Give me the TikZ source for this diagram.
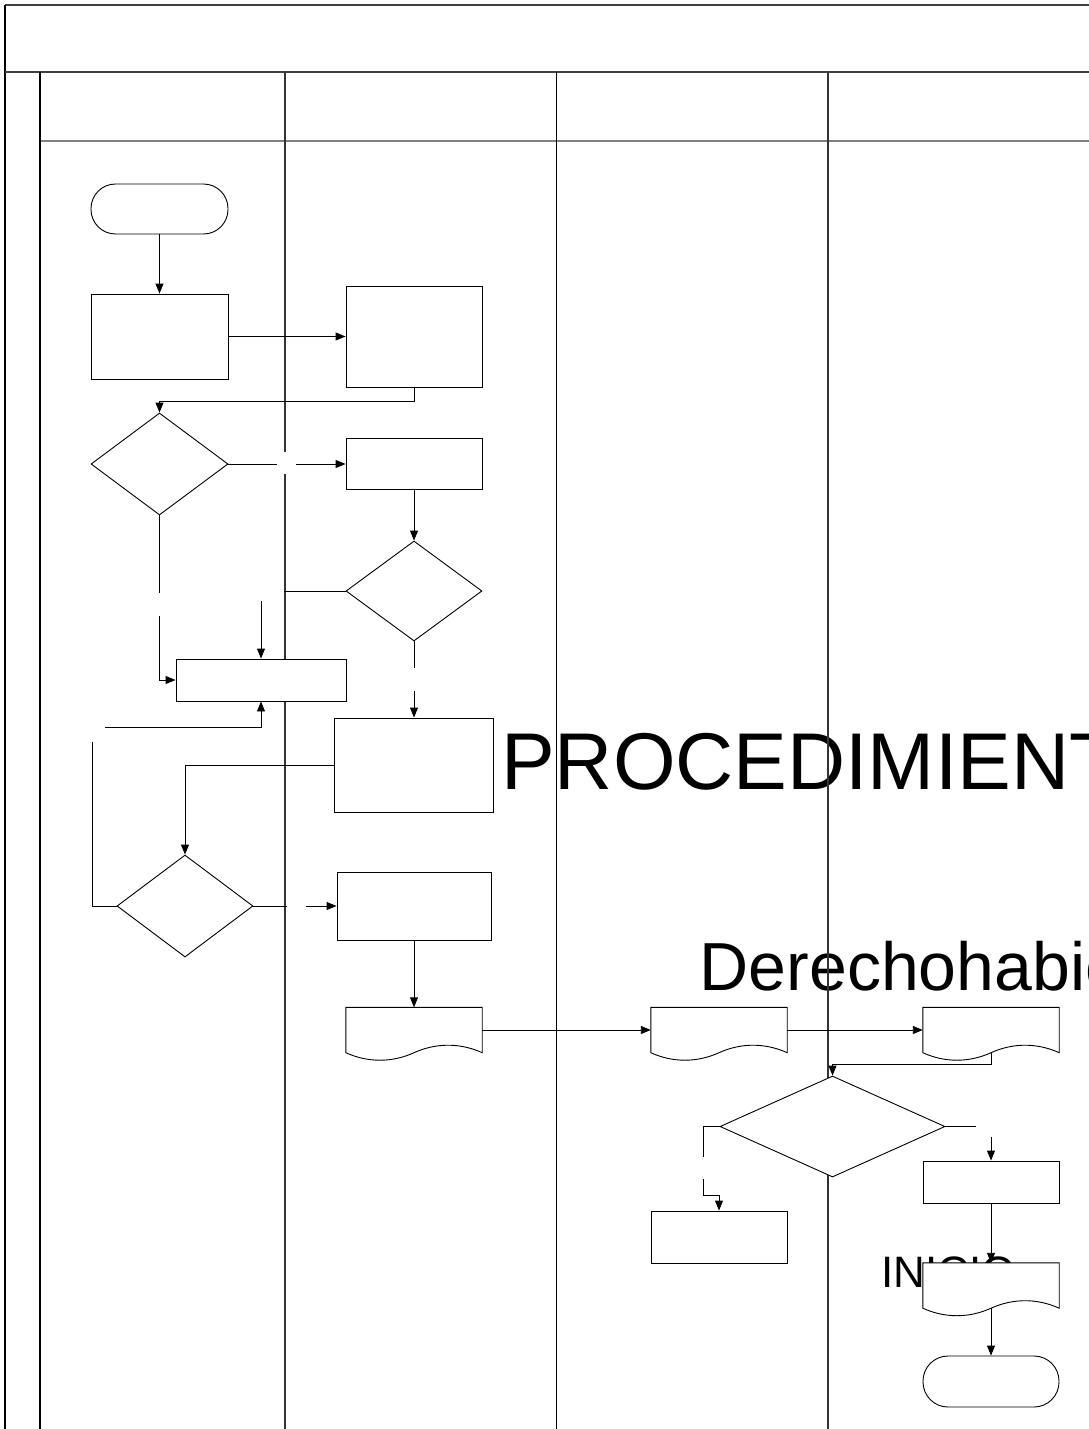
\documentclass[tikz,border=0pt]{standalone}
\usepackage{fontspec}
\setmainfont{Liberation Sans}
\usetikzlibrary{arrows.meta,shapes.geometric,calc}

\begin{document}
\begin{tikzpicture}[x=1pt,y=-1pt,
  shapeline/.style={draw=black,line width=0.9pt,fill=white},
  procbox/.style={shapeline,rectangle,inner sep=0pt},
  decision/.style={shapeline,diamond,inner sep=0pt},
  terminal/.style={shapeline,rectangle,rounded corners=24.5pt,inner sep=0pt},
  docbox/.style={rectangle,inner sep=0pt,minimum width=136pt,minimum height=45pt},
  flow/.style={draw=black,line width=0.9pt,-{Triangle[length=10pt,width=8pt]}},
  gap/.style={fill=white,inner sep=0pt},
  rule/.style={line width=2pt,draw=black!75},
  subrule/.style={line width=2pt,draw=black!50},
  thin/.style={line width=1.2pt,draw=black},
  lane/.style={line width=1.6pt,draw=black!80},
  bigtext/.style={anchor=base west,inner sep=0pt,text=black}
]
\useasboundingbox (0,0) rectangle (1089,1429);
\clip (0,0) rectangle (1089,1429);

% document symbol: rectangle with a wavy lower edge (dip on the left, rise on the right)
\newcommand{\docsym}[3]{%
  \node[docbox] (#1) at (#2,#3) {};
  \draw[shapeline] (#1.south west) -- (#1.north west) -- (#1.north east) -- (#1.south east)
    .. controls +(-22,-10) and +(22,-10) .. (#1.south)
    .. controls +(-22,10) and +(22,10) .. (#1.south west) -- cycle;
}

% large texts
\node[bigtext,font=\fontsize{80.5}{82}\selectfont] (title) at (501,789) {PROCEDIMIENTO};
\node[bigtext,font=\fontsize{68}{70}\selectfont] (who) at (699.5,990) {Derechohabiente};
\node[bigtext,font=\fontsize{44}{46}\selectfont] (inicio) at (881,1287) {INICIO};

% frame and swimlanes
\draw[rule] (5,5) -- (1095,5);
\draw[thin] (5,5) -- (5,1435);
\draw[rule] (5,72) -- (1095,72);
\draw[subrule] (40,141) -- (1095,141);
\draw[thin] (40,72) -- (40,1435);
\draw[lane] (285,72) -- (285,1435);
\draw[thin,line width=1pt] (556,72) -- (556,1435);
\draw[lane] (828,72) -- (828,1435);

% shapes
\node[terminal,minimum width=137pt,minimum height=50pt] (start) at (159.5,209) {};
\node[procbox,minimum width=137pt,minimum height=85pt] (A) at (159.5,336.5) {};
\node[procbox,minimum width=136pt,minimum height=101pt] (B) at (414,336.5) {};
\node[decision,minimum width=137pt,minimum height=102pt] (D1) at (159.5,464) {};
\node[procbox,minimum width=136pt,minimum height=51pt] (C) at (414,463.5) {};
\node[decision,minimum width=136pt,minimum height=100pt] (D2) at (414,591) {};
\node[procbox,minimum width=170pt,minimum height=42pt] (F) at (261,680) {};
\node[procbox,minimum width=159pt,minimum height=94pt] (E) at (413.5,765) {};
\node[decision,minimum width=136pt,minimum height=102pt] (D3) at (185,906) {};
\node[procbox,minimum width=154pt,minimum height=68pt] (G) at (414,906) {};
\docsym{H}{414}{1030}
\docsym{I}{719}{1030}
\docsym{J}{991}{1030}
\node[decision,minimum width=225pt,minimum height=101pt] (D4) at (832.5,1126.5) {};
\node[procbox,minimum width=136pt,minimum height=52pt] (K) at (719,1237) {};
\node[procbox,minimum width=136pt,minimum height=42pt] (L) at (991,1182) {};
\docsym{M}{991}{1285.5}
\node[terminal,minimum width=136pt,minimum height=51pt,rounded corners=25pt] (end) at (991,1381.5) {};

% connectors
\coordinate (c1) at (92,727);
\coordinate (c2) at (703,1195);
\draw[flow] (start) -- (A);
\draw[flow] (A.east) -- (A.east -| B.west);
\draw[flow] (B.south) |- ([yshift=11pt]D1.north) -- (D1.north);
\draw[flow] (D1.east) -- (D1.east -| C.west);
\draw[flow] (C) -- (D2);
\draw[flow] (D2.west) -| (F.north);
\draw[flow] (D2.south) -- (D2.south |- E.north);
\draw[flow] (D1.south) |- (F.west);
\draw[flow] (D3.west) -| (c1) -| (F.south);
\draw[flow] (E.west) -| (D3.north);
\draw[flow] (D3.east) -- (D3.east -| G.west);
\draw[flow] (G) -- (H);
\draw[flow] (H.east) -- (I.west);
\draw[flow] (I.east) -- (J.west);
\draw[flow] (J.south) |- ([yshift=11pt]D4.north) -- (D4.north);
\draw[flow] (D4.west) -| (c2) -| (K.north);
\draw[flow] (D4.east) -| (L.north);
\draw[flow] (L) -- (M.north);
\draw[flow] (M.south) -- (end);

% empty branch labels
\node[gap,minimum width=19pt,minimum height=22pt] (g1) at (286.5,463) {};
\node[gap,minimum width=28pt,minimum height=17pt] (g2) at (269.5,592) {};
\node[gap,minimum width=20pt,minimum height=23pt] (g3) at (414,679.5) {};
\node[gap,minimum width=20pt,minimum height=23pt] (g4) at (159.5,604.5) {};
\node[gap,minimum width=20pt,minimum height=24pt] (g5) at (95,730) {};
\node[gap,minimum width=19pt,minimum height=22pt] (g6) at (296,906) {};
\node[gap,minimum width=20pt,minimum height=22pt] (g7) at (703,1168) {};
\node[gap,minimum width=30pt,minimum height=21pt] (g8) at (991,1126.5) {};
\end{tikzpicture}
\end{document}
